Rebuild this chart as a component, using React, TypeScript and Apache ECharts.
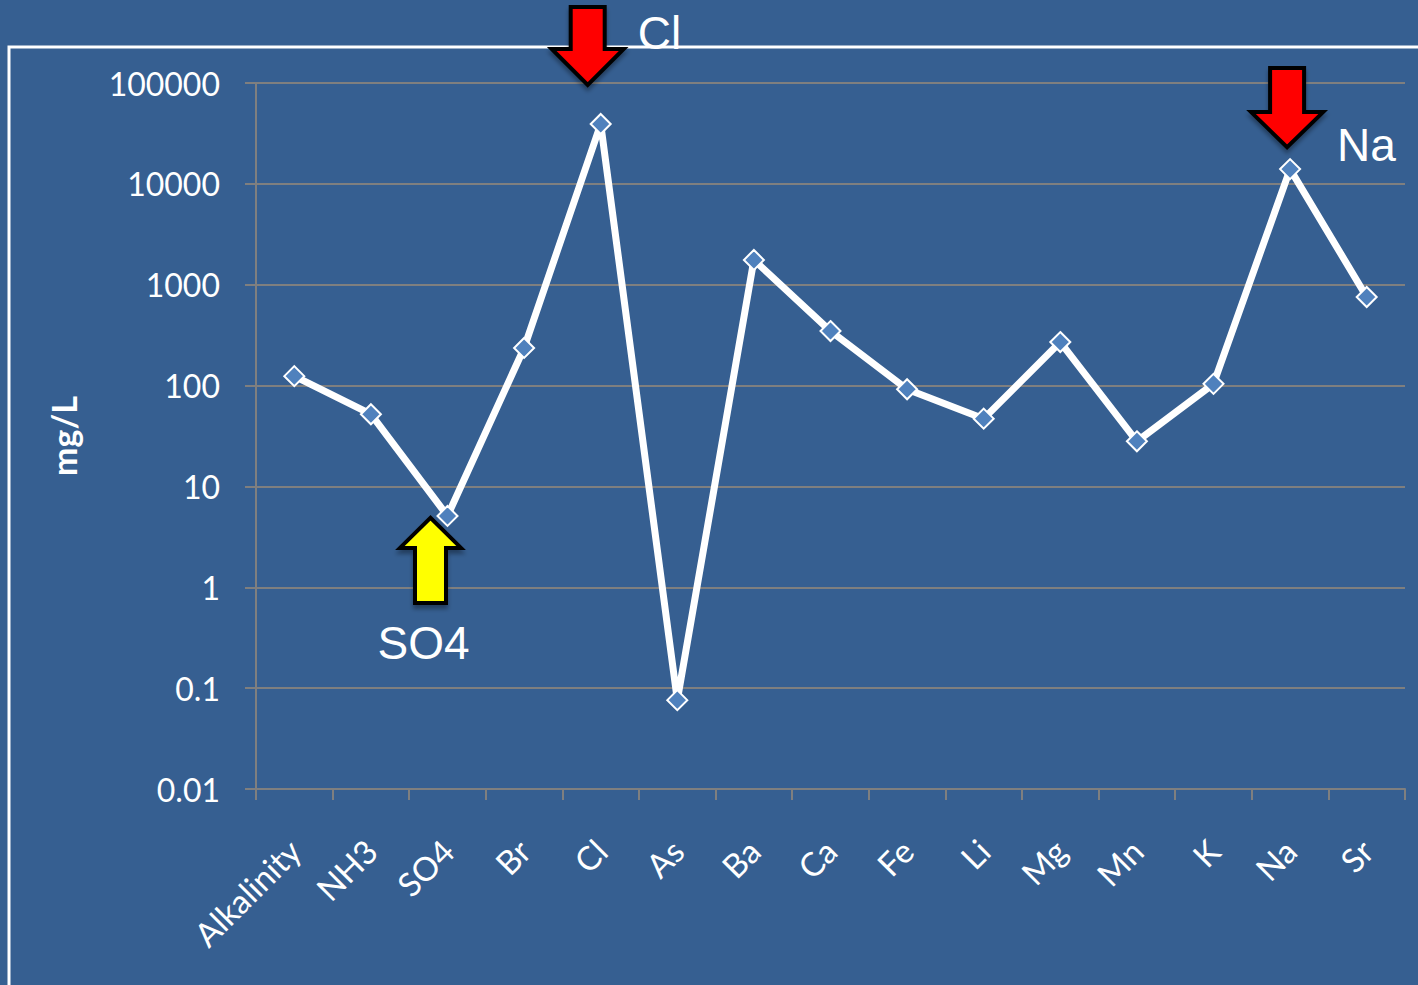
import React, { useEffect, useRef } from "react";
import * as echarts from "echarts";

const categories = ["Alkalinity", "NH3", "SO4", "Br", "Cl", "As", "Ba", "Ca", "Fe", "Li", "Mg", "Mn", "K", "Na", "Sr"];
const values = [124, 52, 5.1, 236, 39200, 0.076, 1760, 347, 92, 47, 270, 28, 104, 14000, 755];
const yTicks = [0.01, 0.1, 1, 10, 100, 1000, 10000, 100000];
const yAxisName = "mg/L";

type Note = { cat: string; label: string; dir: "down" | "up"; fill: string };
const notes: Note[] = [
  { cat: "Cl", label: "Cl", dir: "down", fill: "#FF0000" },
  { cat: "Na", label: "Na", dir: "down", fill: "#FF0000" },
  { cat: "SO4", label: "SO4", dir: "up", fill: "#FFFF00" },
];

// visual placement of each annotation relative to its data point (pixels)
const noteLayout: Record<string, any> = {
  Cl: { tipDx: -13, tipDy: -39, shaft: 42, head: 36, headW: 72, shaftW: 34, textDx: 37, textDy: -91, align: "left" },
  Na: { tipDx: -3, tipDy: -22, shaft: 44, head: 35, headW: 72, shaftW: 34, textDx: 47, textDy: -24, align: "left" },
  SO4: { tipDx: -17, tipDy: 2, shaft: 55, head: 30, headW: 61, shaftW: 31, textDx: -24, textDy: 127, align: "center" },
};

const BG = "#365F91";
const GRID = "#7F7F7F";

function fmt(v: number) {
  if (v >= 1) return String(Math.round(v));
  return String(+v.toPrecision(1));
}

export default function App() {
  const ref = useRef<HTMLDivElement>(null);
  useEffect(() => {
    document.body.style.margin = "0";
    const chart = echarts.init(ref.current!, null, { renderer: "svg" });
    chart.setOption({
      animation: false,
      backgroundColor: BG,
      grid: { left: 256, right: 13, top: 83, bottom: 196, containLabel: false },
      xAxis: {
        type: "category",
        data: categories,
        boundaryGap: true,
        axisLine: { lineStyle: { color: GRID, width: 2 } },
        axisTick: { show: true, length: 11, lineStyle: { color: GRID, width: 2 } },
        axisLabel: {
          rotate: 45,
          margin: 56,
          color: "#FFFFFF",
          fontFamily: "Lato",
          fontSize: 33,
          interval: 0,
        },
      },
      yAxis: {
        type: "log",
        logBase: 10,
        min: 0.01,
        max: 100000,
        name: yAxisName,
        nameLocation: "middle",
        nameRotate: 90,
        nameGap: 176,
        nameTextStyle: { color: "#FFFFFF", fontFamily: "Lato", fontWeight: "bold", fontSize: 34 },
        axisLine: { show: true, lineStyle: { color: GRID, width: 2 } },
        axisTick: { show: true, length: 11, lineStyle: { color: GRID, width: 2 } },
        splitLine: { show: true, lineStyle: { color: GRID, width: 2 } },
        axisLabel: {
          color: "#FFFFFF",
          fontFamily: "Lato",
          fontSize: 32,
          margin: 36,
          formatter: (v: number) => {
            const t = yTicks.find((k) => Math.abs(Math.log10(k) - Math.log10(v)) < 1e-6);
            return t !== undefined ? fmt(t) : "";
          },
        },
      },
      series: [
        {
          type: "line",
          data: values,
          lineStyle: { color: "#FFFFFF", width: 7 },
          symbol: "diamond",
          symbolSize: 20,
          showAllSymbol: true,
          itemStyle: { color: "#4F81BD", borderColor: "#FFFFFF", borderWidth: 2 },
          z: 5,
        },
      ],
    });

    const graphics: any[] = [
      {
        type: "polyline",
        shape: { points: [[9, 985], [9, 47], [1418, 47]] },
        style: { stroke: "#FFFFFF", lineWidth: 3, fill: null },
        z: 50,
      },
    ];
    notes.forEach((n) => {
      const idx = categories.indexOf(n.cat);
      const [px, py] = chart.convertToPixel({ seriesIndex: 0 }, [idx, values[idx]]) as number[];
      const L = noteLayout[n.cat];
      const tx = px + L.tipDx;
      const ty = py + L.tipDy;
      const s = n.dir === "down" ? -1 : 1;
      const hw = L.headW / 2;
      const sw = L.shaftW / 2;
      const hb = ty + s * L.head;
      const se = hb + s * L.shaft;
      graphics.push({
        type: "polygon",
        shape: {
          points: [
            [tx - sw, se],
            [tx + sw, se],
            [tx + sw, hb],
            [tx + hw, hb],
            [tx, ty],
            [tx - hw, hb],
            [tx - sw, hb],
          ],
        },
        style: {
          fill: n.fill,
          stroke: "#000000",
          lineWidth: 4,
          lineJoin: "miter",
          shadowBlur: 4,
          shadowOffsetY: 4,
          shadowColor: "rgba(0,0,0,0.35)",
        },
        z: 100,
      });
      graphics.push({
        type: "text",
        x: px + L.textDx,
        y: py + L.textDy,
        style: {
          text: n.label,
          fill: "#FFFFFF",
          font: "46px 'Liberation Sans', Arial, sans-serif",
          textAlign: L.align,
          textVerticalAlign: "middle",
        },
        z: 101,
      });
    });
    chart.setOption({ graphic: graphics });

    return () => chart.dispose();
  }, []);
  return <div ref={ref} style={{ width: 1418, height: 985 }} />;
}
